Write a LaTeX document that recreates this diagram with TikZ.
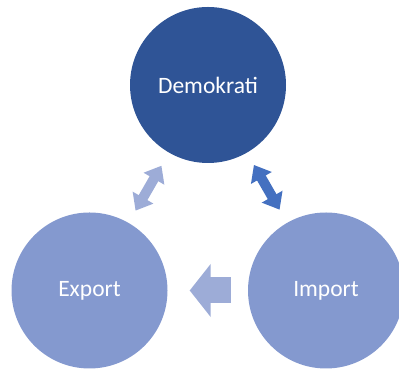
\documentclass[tikz,border=0pt]{standalone}
\usepackage{fontspec}
\setmainfont{Carlito}
\usepackage{tikz}
\usetikzlibrary{arrows.meta, positioning}
\definecolor{darkblue}{HTML}{2F5496}
\definecolor{midblue}{HTML}{8499CF}
\definecolor{lightblue}{HTML}{9DACD7}
\definecolor{arrowblue}{HTML}{4470C0}
\tikzset{%
	topic/.style={circle, minimum size=156pt, inner sep=0pt, text=white,%
		font=\fontsize{23.5}{28}\selectfont},
	main/.style={fill=darkblue},
	side/.style={fill=midblue},
	dbl/.style={{Triangle[width=23pt,length=15pt]}-{Triangle[width=23pt,length=15pt]},%
		line width=10pt, shorten >=15pt, shorten <=14pt},
	flow/.style={-{Triangle[width=52pt,length=21pt]}, line width=26pt,%
		shorten >=22pt, shorten <=17pt, draw=lightblue}
}
\begin{document}
\begin{tikzpicture}[x=1pt, y=1pt]
	\useasboundingbox (0,0) rectangle (399,371);
	\node[topic, main] (demo) at (208,286) {Demokrati};
	\node[topic, side] (exp) at (89.5,80.5) {Export};
	\node[topic, side] (imp) at (326,80.5) {Import};
	
	\draw[dbl, draw=lightblue] (exp) to (demo);
	\draw[dbl, draw=arrowblue] (demo) to (imp);
	\draw[flow] (imp) to (exp);
\end{tikzpicture}
\end{document}
